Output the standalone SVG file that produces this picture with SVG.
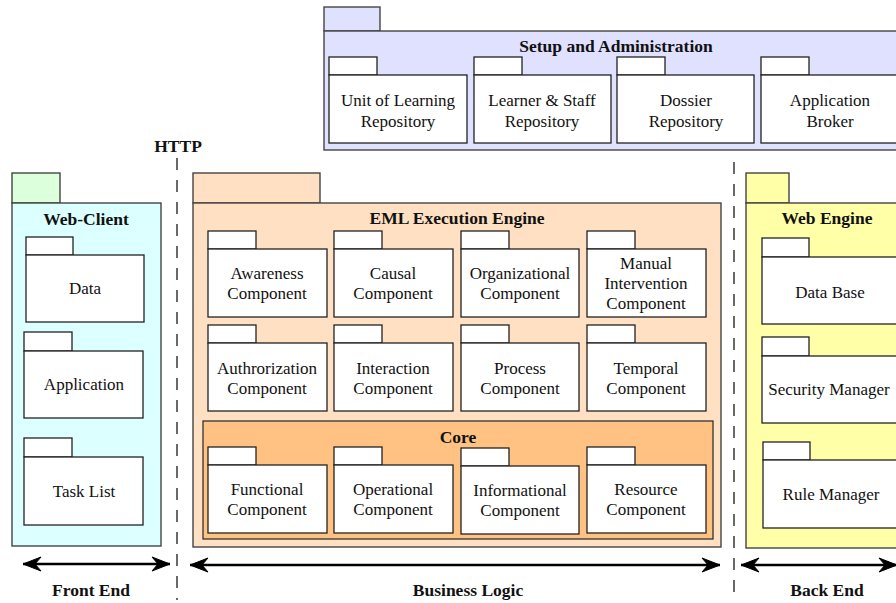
<svg xmlns="http://www.w3.org/2000/svg" width="896" height="603" viewBox="0 0 896 603">
<style>
text{font-family:"Liberation Serif","Times New Roman",serif;font-size:17px;fill:#111;text-anchor:middle}
.b{font-weight:bold;font-size:17.5px}
.c{stroke:#444;stroke-width:1.4}
.w{fill:#fff;stroke:#222;stroke-width:1.3}
.setup{fill:#e0e0ff}
.client{fill:#dcffff}
.clienttab{fill:#dcffdc}
.eml{fill:#ffe0c2}
.core{fill:#ffc283;stroke:#333;stroke-width:1.3}
.web{fill:#ffffa8}
.dash{stroke:#444;stroke-width:1.6;stroke-dasharray:12 10;fill:none}
.arr{stroke:#000;stroke-width:2.6;fill:none;marker-start:url(#ah);marker-end:url(#ah)}
</style>
<defs>
<marker id="ah" viewBox="-20 -8 22 16" refX="0" refY="0" markerWidth="22" markerHeight="16" markerUnits="userSpaceOnUse" orient="auto-start-reverse">
<path d="M0 0 L-18 -7 L-12 0 L-18 7 Z" fill="#000" stroke="#000" stroke-width="1" stroke-linejoin="miter"/>
</marker>
</defs>

<g id="setup">
<rect class="setup c" x="324" y="7" width="56" height="24"/>
<rect class="setup c" x="324" y="31" width="590" height="119"/>
<text class="b" x="616" y="52">Setup and Administration</text>
<g id="uol"><rect class="w" x="329" y="57" width="48" height="18"/><rect class="w" x="329" y="75" width="138" height="68"/><text x="398" y="106">Unit of Learning</text><text x="398" y="127">Repository</text></g>
<g id="lsr"><rect class="w" x="474" y="57" width="48" height="18"/><rect class="w" x="474" y="75" width="137" height="68"/><text x="542" y="106">Learner &amp; Staff</text><text x="542" y="127">Repository</text></g>
<g id="dossier"><rect class="w" x="617" y="57" width="48" height="18"/><rect class="w" x="617" y="75" width="137" height="68"/><text x="686" y="106">Dossier</text><text x="686" y="127">Repository</text></g>
<g id="broker"><rect class="w" x="761" y="57" width="48" height="18"/><rect class="w" x="761" y="75" width="140" height="68"/><text x="830" y="106">Application</text><text x="830" y="127">Broker</text></g>
</g>

<g id="webclient">
<rect class="clienttab c" x="12" y="173" width="48" height="30"/>
<rect class="client c" x="12" y="203" width="149" height="343"/>
<text class="b" x="86" y="225">Web-Client</text>
<g id="data"><rect class="w" x="26" y="237" width="47" height="18"/><rect class="w" x="26" y="255" width="118" height="67"/><text x="85" y="294">Data</text></g>
<g id="application"><rect class="w" x="24" y="332" width="48" height="19"/><rect class="w" x="24" y="351" width="119" height="67"/><text x="84" y="390">Application</text></g>
<g id="tasklist"><rect class="w" x="24" y="438" width="48" height="19"/><rect class="w" x="24" y="457" width="119" height="68"/><text x="84" y="497">Task List</text></g>
</g>

<g id="eml">
<rect class="eml c" x="193" y="173" width="127" height="30"/>
<rect class="eml c" x="193" y="203" width="528" height="344"/>
<text class="b" x="457" y="224">EML Execution Engine</text>
<g id="awareness"><rect class="w" x="208" y="231" width="48" height="18"/><rect class="w" x="208" y="249" width="119" height="68"/><text x="267" y="279">Awareness</text><text x="267" y="299">Component</text></g>
<g id="causal"><rect class="w" x="334" y="231" width="48" height="18"/><rect class="w" x="334" y="249" width="119" height="68"/><text x="393" y="279">Causal</text><text x="393" y="299">Component</text></g>
<g id="organizational"><rect class="w" x="461" y="231" width="48" height="18"/><rect class="w" x="461" y="249" width="118" height="68"/><text x="520" y="279">Organizational</text><text x="520" y="299">Component</text></g>
<g id="manual"><rect class="w" x="587" y="231" width="48" height="18"/><rect class="w" x="587" y="249" width="119" height="68"/><text x="646" y="269">Manual</text><text x="646" y="289">Intervention</text><text x="646" y="309">Component</text></g>
<g id="authorization"><rect class="w" x="208" y="325" width="48" height="18"/><rect class="w" x="208" y="343" width="119" height="68"/><text x="267" y="374">Authrorization</text><text x="267" y="394">Component</text></g>
<g id="interaction"><rect class="w" x="334" y="325" width="48" height="18"/><rect class="w" x="334" y="343" width="119" height="68"/><text x="393" y="374">Interaction</text><text x="393" y="394">Component</text></g>
<g id="process"><rect class="w" x="461" y="325" width="48" height="18"/><rect class="w" x="461" y="343" width="118" height="68"/><text x="520" y="374">Process</text><text x="520" y="394">Component</text></g>
<g id="temporal"><rect class="w" x="587" y="325" width="48" height="18"/><rect class="w" x="587" y="343" width="119" height="68"/><text x="646" y="374">Temporal</text><text x="646" y="394">Component</text></g>
<g id="core">
<rect class="core" x="203" y="421" width="510" height="118"/>
<text class="b" x="458" y="443">Core</text>
<g id="functional"><rect class="w" x="208" y="447" width="48" height="18"/><rect class="w" x="208" y="465" width="119" height="68"/><text x="267" y="495">Functional</text><text x="267" y="515">Component</text></g>
<g id="operational"><rect class="w" x="334" y="447" width="48" height="18"/><rect class="w" x="334" y="465" width="119" height="68"/><text x="393" y="495">Operational</text><text x="393" y="515">Component</text></g>
<g id="informational"><rect class="w" x="461" y="448" width="48" height="18"/><rect class="w" x="461" y="466" width="118" height="68"/><text x="520" y="496">Informational</text><text x="520" y="516">Component</text></g>
<g id="resource"><rect class="w" x="587" y="447" width="48" height="18"/><rect class="w" x="587" y="465" width="119" height="68"/><text x="646" y="495">Resource</text><text x="646" y="515">Component</text></g>
</g>
</g>

<g id="webengine">
<rect class="web c" x="746" y="173" width="43" height="30"/>
<rect class="web c" x="746" y="203" width="160" height="345"/>
<text class="b" x="827" y="224">Web Engine</text>
<g id="database"><rect class="w" x="762" y="238" width="47" height="19"/><rect class="w" x="762" y="257" width="140" height="67"/><text x="830" y="298">Data Base</text></g>
<g id="security"><rect class="w" x="762" y="337" width="47" height="19"/><rect class="w" x="762" y="356" width="140" height="67"/><text x="829" y="395">Security Manager</text></g>
<g id="rule"><rect class="w" x="763" y="442" width="47" height="18"/><rect class="w" x="763" y="460" width="140" height="68"/><text x="831" y="500">Rule Manager</text></g>
</g>

<g id="connectors">
<line class="dash" x1="177" y1="158" x2="177" y2="600"/>
<line class="dash" x1="734" y1="162" x2="734" y2="600"/>
<line class="arr" x1="23" y1="564" x2="170" y2="564"/>
<line class="arr" x1="190" y1="565" x2="720" y2="565"/>
<line class="arr" x1="741" y1="565" x2="897" y2="565"/>
</g>

<text class="b" x="178" y="152">HTTP</text>
<text class="b" x="91" y="596">Front End</text>
<text class="b" x="468" y="596">Business Logic</text>
<text class="b" x="827" y="596">Back End</text>
</svg>
